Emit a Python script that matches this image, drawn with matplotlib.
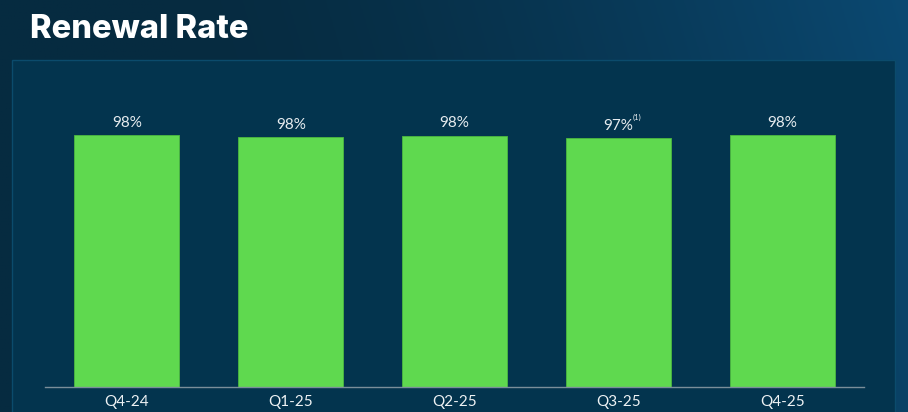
import numpy as np
import matplotlib.pyplot as plt
from matplotlib.patches import Rectangle

# values (labels are rounded)
quarters = ["Q4-24", "Q1-25", "Q2-25", "Q3-25", "Q4-25"]
rates = [98.4, 97.6, 98.2, 97.2, 98.4]
labels = ["98%", "98%", "98%", "97%", "98%"]
notes = ["", "", "", "(1)", ""]

W, H = 908, 412
fig = plt.figure(figsize=(W / 100, H / 100), dpi=100)

# background gradient, dark navy to a brighter blue at the top right
bg = fig.add_axes([0, 0, 1, 1])
xx, yy = np.meshgrid(np.linspace(0, 1, 300), np.linspace(0, 1, 150))
t = np.clip(xx * 1.1 - 0.35 + (1 - yy) * 0.15, 0, 1) ** 1.5
c0 = np.array([6, 43, 64]) / 255
c1 = np.array([12, 78, 122]) / 255
img = c0 + (c1 - c0) * t[..., None]
bg.imshow(img, extent=[0, 1, 0, 1], aspect="auto", origin="upper")
bg.set_xlim(0, 1)
bg.set_ylim(0, 1)
bg.axis("off")

# inner panel
bg.add_patch(Rectangle((12 / W, -0.05), (895 - 12) / W, (412 - 60) / H + 0.05,
                       facecolor="#03344e", edgecolor="#0b4b6c", lw=1))

fig.text(30 / W, 1 - 38 / H, "Renewal Rate", color="white", fontsize=23.5,
         fontweight="heavy", family="Inter", va="baseline", ha="left")

left, right, top, bottom = 45, 864, 100, 387
ax = fig.add_axes([left / W, 1 - bottom / H, (right - left) / W, (bottom - top) / H])
ax.patch.set_alpha(0)
x = np.arange(len(quarters))
bars = ax.bar(x, rates, width=0.64, color="#5fd94f", edgecolor="#4cb840", linewidth=0.6)
ax.set_xlim(-0.5, 4.5)
ax.set_ylim(0, 112.1)

for i, b in enumerate(bars):
    h = b.get_height()
    ax.annotate(labels[i], (b.get_x() + b.get_width() / 2, h), xytext=(0, 4),
                textcoords="offset points", ha="center", va="bottom",
                color="#e6ecef", fontsize=11, family="Lato")
    if notes[i]:
        ax.annotate(notes[i], (b.get_x() + b.get_width() / 2, h), xytext=(10.5, 12),
                    textcoords="offset points", ha="left", va="bottom",
                    color="#e6ecef", fontsize=5.5, family="Lato")

ax.set_xticks(x)
ax.set_xticklabels(quarters, color="#eef2f4", fontsize=11, family="Lato")
ax.tick_params(axis="x", length=0, pad=6)
ax.set_yticks([])
for s in ["top", "right", "left"]:
    ax.spines[s].set_visible(False)
ax.spines["bottom"].set_color("#7a8e9a")
ax.spines["bottom"].set_linewidth(1)

fig.savefig("out.png", dpi=100)
